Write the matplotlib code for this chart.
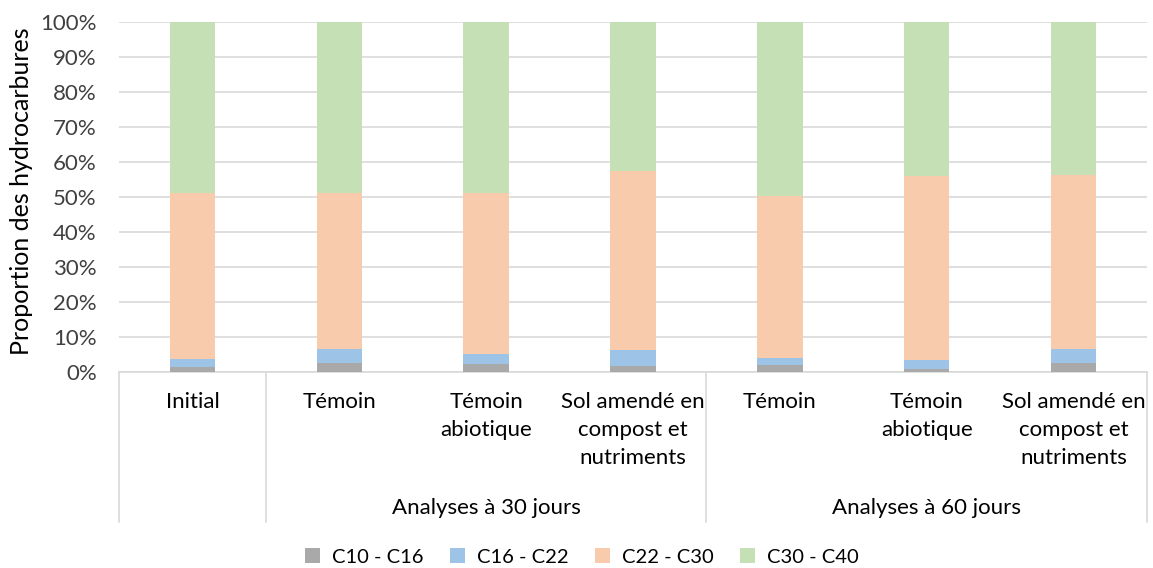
import matplotlib.pyplot as plt
import matplotlib.transforms as mtransforms
from matplotlib.patches import Patch
import numpy as np

plt.rcParams['font.family'] = ['Lato', 'DejaVu Sans']

labels = ["Initial", "Témoin", "Témoin\nabiotique", "Sol amendé en\ncompost et\nnutriments",
          "Témoin", "Témoin\nabiotique", "Sol amendé en\ncompost et\nnutriments"]
groups = ["Analyses à 30 jours", "Analyses à 60 jours"]
series = ["C10 - C16", "C16 - C22", "C22 - C30", "C30 - C40"]
c10_c16 = [1.4, 2.6, 2.2, 1.8, 2.1, 0.9, 2.5]
c16_c22 = [2.3, 4.0, 2.9, 4.4, 1.8, 2.6, 4.1]
c22_c30 = [47.4, 44.5, 46.0, 51.2, 46.5, 52.5, 49.7]
c30_c40 = [48.9, 48.9, 48.9, 42.6, 49.6, 44.0, 43.7]
colors = ["#A9A9A9", "#9DC3E6", "#F8CBAD", "#C5E0B4"]

W, H = 1153, 568
fs = 16
fig = plt.figure(figsize=(W / 100, H / 100), dpi=100)
ax = fig.add_axes([119 / W, (H - 372) / H, (1147 - 119) / W, 350 / H])

x = np.arange(len(labels))
bottom = np.zeros(len(labels))
for vals, col in zip([c10_c16, c16_c22, c22_c30, c30_c40], colors):
    v = np.array(vals) / 100
    ax.bar(x, v, 0.31, bottom=bottom, color=col, zorder=3)
    bottom += v

ax.set_xlim(-0.5, 6.5)
ax.set_ylim(0, 1)
ticks = np.arange(0, 1.01, 0.1)
ax.set_yticks(ticks)
ax.set_yticklabels([f"{int(round(t * 100))}%" for t in ticks], fontsize=fs, color="#404040")
ax.tick_params(axis='y', length=0, pad=16)
ax.set_xticks([])
ax.grid(axis='y', color="#D9D9D9", linewidth=1.2, zorder=0)
for s in ["top", "right", "left"]:
    ax.spines[s].set_visible(False)
ax.spines["bottom"].set_color("#D9D9D9")
ax.spines["bottom"].set_linewidth(1.2)
ax.set_ylabel("Proportion des hydrocarbures", fontsize=18, color="#000000")
ax.yaxis.set_label_coords(-(119 - 22) / 1028, (372 - 191) / 350)
ax.yaxis.label.set_va('center')

# multi-level category axis
trans = mtransforms.blended_transform_factory(ax.transData, ax.transAxes)
depth = -(522 - 372) / 350
for xs in [-0.5, 0.5, 3.5, 6.5]:
    ax.plot([xs, xs], [0, depth], color="#D9D9D9", lw=1.2, transform=trans, clip_on=False)
for xi, lab in zip(x, labels):
    ax.text(xi, -(392 - 372) / 350, lab, transform=trans, ha='center', va='top',
            fontsize=fs, color="#000000", linespacing=1.5)
for xc, g in zip([2, 5], groups):
    ax.text(xc, -(508 - 372) / 350, g, transform=trans, ha='center', va='center',
            fontsize=fs, color="#000000")

handles = [Patch(facecolor=c, label=s) for c, s in zip(colors, series)]
fig.legend(handles=handles, loc='center', bbox_to_anchor=(582 / W, (H - 557) / H), ncol=4,
           frameon=False, fontsize=14.5, handlelength=0.75, handleheight=0.75,
           handletextpad=0.6, columnspacing=1.3)

fig.savefig("out.png", dpi=100)
